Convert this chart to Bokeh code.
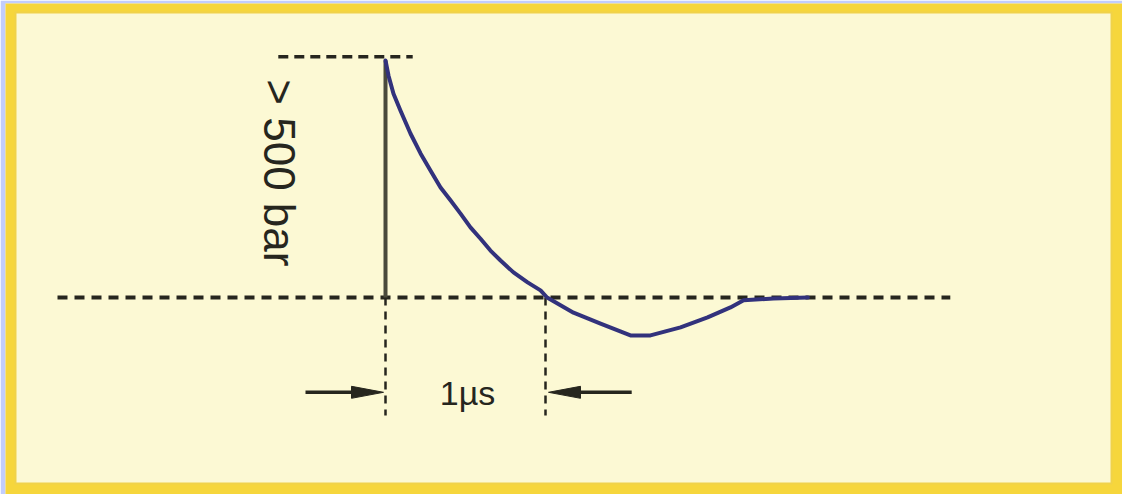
from bokeh.plotting import figure
from bokeh.models import Range1d
from bokeh.core.properties import value
from bokeh.embed import file_html
from bokeh.resources import INLINE

# Pressure pulse (time in microseconds, pressure in bar)
time_us = [0.0, 0.019, 0.05, 0.094, 0.156, 0.219, 0.281, 0.344, 0.406, 0.469,
           0.531, 0.594, 0.656, 0.719, 0.80, 0.888, 0.969, 1.01, 1.175, 1.344,
           1.531, 1.656, 1.844, 2.013, 2.156, 2.238, 2.425, 2.64]
pressure_bar = [500, 468, 430, 394, 346, 304, 268, 232, 205, 177,
                148, 124, 99, 78, 53, 32, 15, 0, -32, -55,
                -80, -80, -63, -42, -21, -6, -2, 0]
peak_label = "> 500 bar"
duration_label = "1µs"
pulse_duration = 1.0

# pixel size in data units (for annotation sizes)
PX_T = 1 / 160.0
PX_P = 500 / 237.0

p = figure(width=1122, height=494, output_backend="svg", toolbar_location=None,
           x_range=Range1d(-2.375, 4.60625), y_range=Range1d(-415.6, 620.25),
           x_axis_type=None, y_axis_type=None,
           min_border_left=5, min_border_right=0, min_border_top=3, min_border_bottom=0)
p.grid.visible = False
p.outline_line_color = None
p.background_fill_color = "#f6d63c"
p.border_fill_color = "#c2cdfd"

# paper (inner area)
p.quad(left=[-2.3125], right=[4.5375], bottom=[-392.4], top=[601.3],
       fill_color="#fcf9d4", line_color="#f0d24a", line_width=2)

ink = "#26261e"
peak = max(pressure_bar)
t0 = time_us[0]

# baseline dashed
p.segment(x0=[-2.05], y0=[0], x1=[3.53], y1=[0], line_color=ink, line_width=4,
          line_dash="10 7")
# peak dashed
p.segment(x0=[t0 - 0.67], y0=[peak + 8], x1=[t0 + 0.17], y1=[peak + 8], line_color=ink,
          line_width=3.5, line_dash="10 6")
# vertical dashed markers
for tx in [t0, t0 + pulse_duration]:
    p.segment(x0=[tx], y0=[0], x1=[tx], y1=[-249], line_color=ink, line_width=2.5,
              line_dash="8 6")

# rising edge
p.segment(x0=[t0], y0=[0], x1=[t0], y1=[peak], line_color="#4a4a3c", line_width=4)
# pulse curve
p.line(time_us, pressure_bar, line_color="#32327c", line_width=4, line_join="round",
       line_cap="round")

# arrows
ya = -200
hl = 32 * PX_T
hw = 6 * PX_P
lt = t0 - 2 * PX_T
rt = t0 + pulse_duration + 3 * PX_T
p.segment(x0=[t0 - 0.5, rt + hl - 0.02], y0=[ya, ya], x1=[lt - hl + 0.02, rt + 0.52],
          y1=[ya, ya], line_color=ink, line_width=3.5)
p.patches(xs=[[lt, lt - hl, lt - hl], [rt, rt + hl, rt + hl]],
          ys=[[ya, ya + hw, ya - hw], [ya, ya + hw, ya - hw]],
          fill_color=ink, line_color=ink, line_width=1)

# labels
p.text(x=[t0 - 0.6625], y=[263], text=[peak_label], angle=-1.5708,
       text_font=value("Liberation Sans"), text_font_size=value("44px"),
       text_color=ink, text_align="center", text_baseline="middle")
p.text(x=[t0 + 0.5125], y=[ya - 2], text=[duration_label],
       text_font=value("Liberation Sans"), text_font_size=value("34px"),
       text_color=ink, text_align="center", text_baseline="middle")

open("out.html", "w").write(file_html(p, INLINE))
